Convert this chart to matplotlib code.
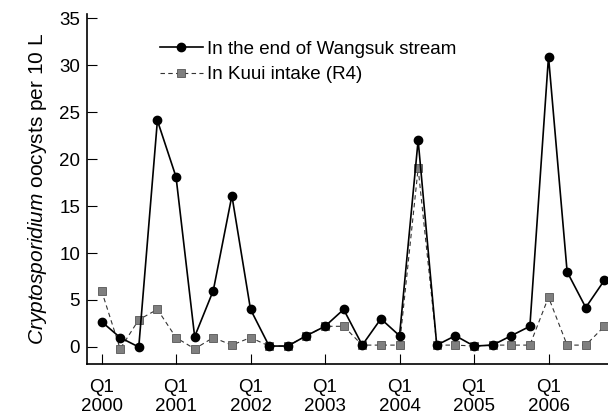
import matplotlib
matplotlib.use("Agg")
import matplotlib.pyplot as plt

plt.rcParams['font.family'] = ['Liberation Sans', 'DejaVu Sans']
plt.rcParams['mathtext.fontset'] = 'custom'
plt.rcParams['mathtext.rm'] = 'Liberation Sans'
plt.rcParams['mathtext.it'] = 'Liberation Sans:italic'

# quarterly samples, Q1 2000 .. Q4 2006
quarters = list(range(28))
wangsuk = [2.7, 1.0, 0.0, 24.1, 18.1, 1.1, 6.0, 16.1, 4.0, 0.1, 0.1, 1.2, 2.2, 4.0,
           0.2, 3.0, 1.2, 22.0, 0.2, 1.2, 0.1, 0.2, 1.2, 2.2, 30.9, 8.0, 4.2, 7.1]
kuui = [6.0, -0.2, 2.9, 4.0, 1.0, -0.2, 1.0, 0.2, 1.0, 0.1, 0.1, 1.2, 2.2, 2.2,
        0.2, 0.2, 0.2, 19.0, 0.2, 0.2, 0.1, 0.2, 0.2, 0.2, 5.3, 0.2, 0.2, 2.2]
tick_pos = [0, 4, 8, 12, 16, 20, 24]
tick_labels = ['Q1\n2000', 'Q1\n2001', 'Q1\n2002', 'Q1\n2003', 'Q1\n2004', 'Q1\n2005', 'Q1\n2006']

fig = plt.figure(figsize=(6.08, 4.16), dpi=100)
# axes runs past the right edge like in the original scan
ax = fig.add_axes([87/608, 52/416, 536/608, 350/416])

ax.plot(quarters, kuui, color='#333333', linestyle=(0, (4, 3)), linewidth=0.8,
        marker='s', markersize=5.5, markerfacecolor='#7f7f7f', markeredgecolor='#555555',
        markeredgewidth=0.6, label='In Kuui intake (R4)', clip_on=False, zorder=2)
ax.plot(quarters, wangsuk, color='black', linewidth=1.2, marker='o', markersize=6,
        markerfacecolor='black', label='In the end of Wangsuk stream', clip_on=False, zorder=3)

ax.set_xlim(-0.78, 28)
ax.set_ylim(-1.81, 35.43)
ax.set_yticks(range(0, 36, 5))
ax.set_xticks(tick_pos)
ax.set_xticklabels(tick_labels, linespacing=1.15)
ax.tick_params(axis='both', direction='in', length=7, width=0.8, labelsize=13.5)
ax.tick_params(axis='x', pad=11)
ax.tick_params(axis='y', pad=5)

for s in ['top', 'right']:
    ax.spines[s].set_visible(False)
ax.spines['left'].set_linewidth(1.2)
ax.spines['bottom'].set_linewidth(1.2)

ax.set_ylabel(r'$\it{Cryptosporidium}$ oocysts per 10 L', fontsize=15, labelpad=7)

h, l = ax.get_legend_handles_labels()
ax.legend(h[::-1], l[::-1], loc='upper left', bbox_to_anchor=(152/608, 1 - 33/416),
          bbox_transform=fig.transFigure, frameon=False, fontsize=13.5,
          handlelength=2.3, handletextpad=0.25, labelspacing=0.45, borderaxespad=0)

fig.savefig('out.png', dpi=100)
